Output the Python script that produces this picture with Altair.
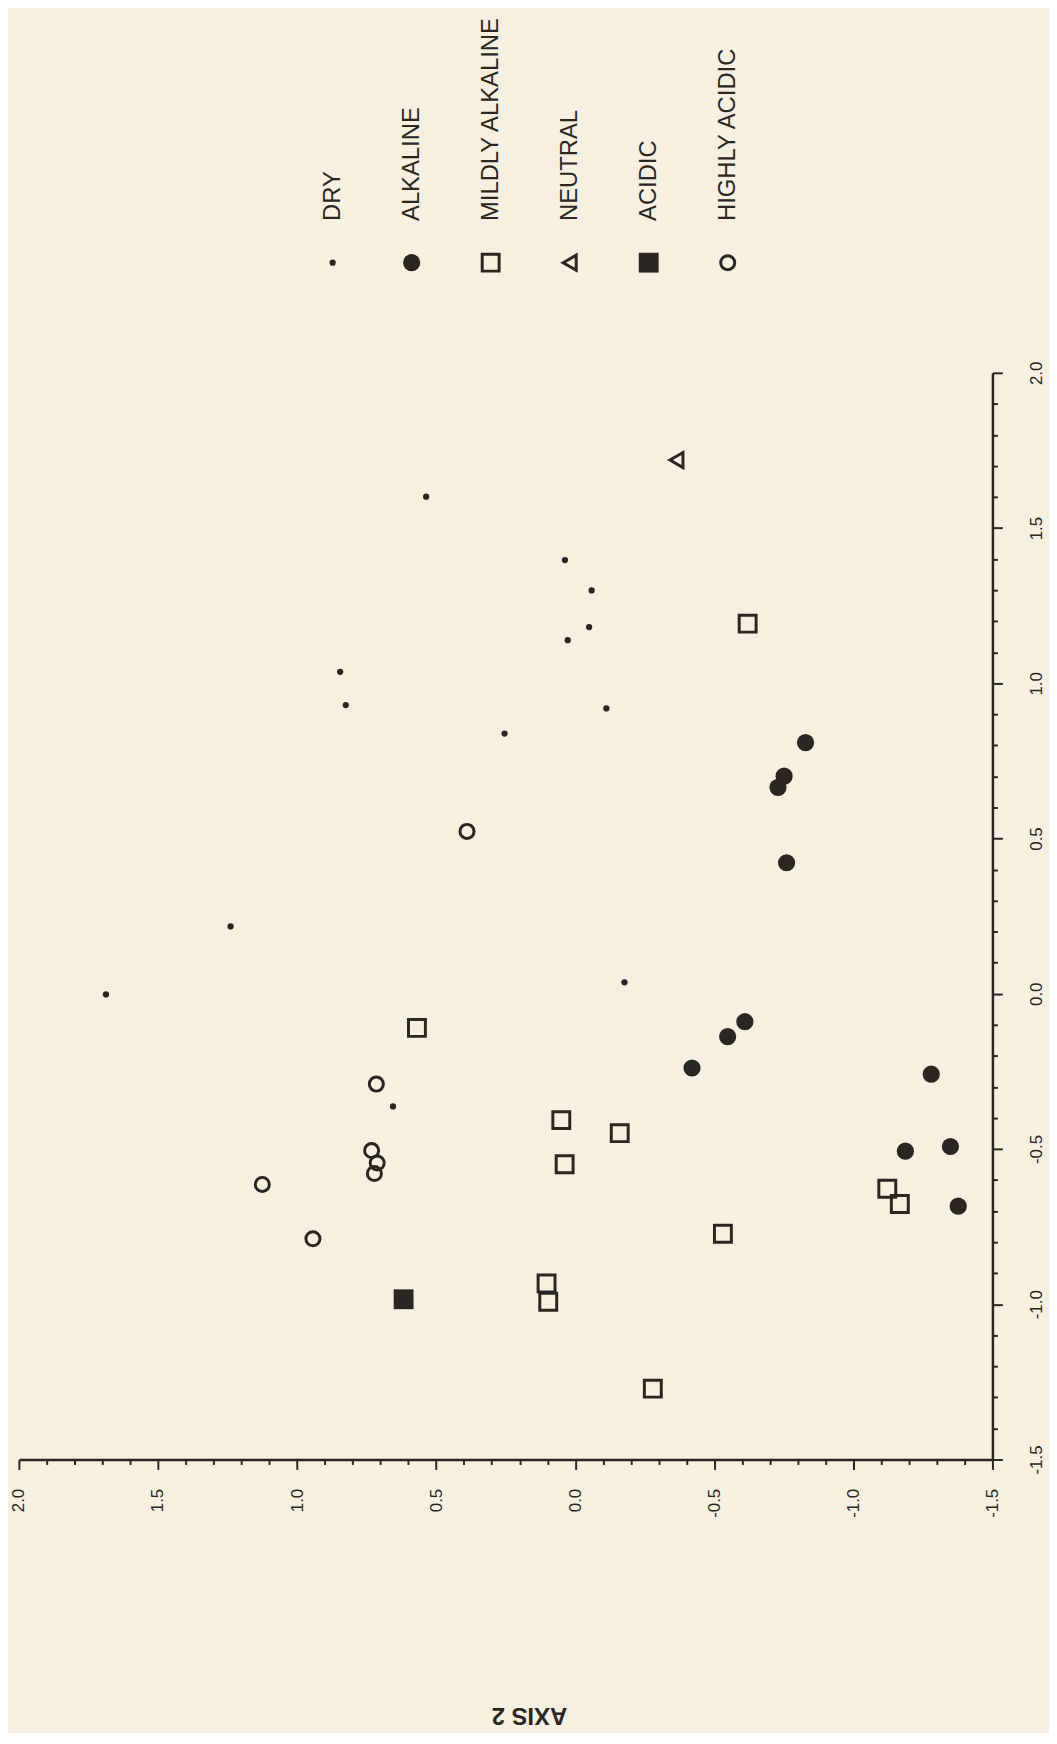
import altair as alt
import pandas as pd

# ---- data (horizontal = AXIS 2, vertical = AXIS 1) ----
categories = ["DRY", "ALKALINE", "MILDLY ALKALINE", "NEUTRAL", "ACIDIC", "HIGHLY ACIDIC"]
legend_order = [0, 1, 2, 3, 4, 5]

dry_axis2 = [0.536, 0.845, 0.825, 0.254, 0.037, -0.059, -0.050, 0.027, -0.112, 1.239, 1.687, 0.655, -0.177]
dry_axis1 = [1.601, 1.037, 0.930, 0.838, 1.397, 1.299, 1.181, 1.139, 0.919, 0.217, -0.002, -0.363, 0.037]

alk_axis2 = [-0.828, -0.751, -0.729, -0.760, -0.610, -0.548, -0.420, -1.280, -1.187, -1.349, -1.377]
alk_axis1 = [0.809, 0.701, 0.665, 0.422, -0.090, -0.138, -0.239, -0.259, -0.507, -0.492, -0.684]

mild_axis2 = [-0.620, 0.569, 0.050, -0.160, 0.038, -1.122, -1.167, -0.531, 0.103, 0.097, -0.279]
mild_axis1 = [1.192, -0.110, -0.407, -0.449, -0.549, -0.628, -0.677, -0.773, -0.933, -0.992, -1.272]

neut_axis2 = [-0.364]
neut_axis1 = [1.719]

acid_axis2 = [0.617]
acid_axis1 = [-0.984]

hacid_axis2 = [0.389, 0.715, 0.732, 0.712, 0.722, 1.125, 0.943]
hacid_axis1 = [0.523, -0.291, -0.505, -0.545, -0.579, -0.614, -0.789]

tick_values = [round(-1.5 + 0.1 * i, 1) for i in range(36)]

INK = "#2a2622"
BG = "#f7f0e1"

rows = []
for cat, xs, ys in [
    ("DRY", dry_axis2, dry_axis1),
    ("ALKALINE", alk_axis2, alk_axis1),
    ("MILDLY ALKALINE", mild_axis2, mild_axis1),
    ("NEUTRAL", neut_axis2, neut_axis1),
    ("ACIDIC", acid_axis2, acid_axis1),
    ("HIGHLY ACIDIC", hacid_axis2, hacid_axis1),
]:
    for a2, a1 in zip(xs, ys):
        rows.append({"group": cat, "axis2": a2, "axis1": a1})
df = pd.DataFrame(rows)

styles = {
    "DRY": dict(shape="circle", filled=True, size=40),
    "ALKALINE": dict(shape="circle", filled=True, size=300),
    "MILDLY ALKALINE": dict(shape="square", filled=False, size=290, strokeWidth=3),
    "NEUTRAL": dict(shape="triangle-left", filled=False, size=230, strokeWidth=3),
    "ACIDIC": dict(shape="square", filled=True, size=400),
    "HIGHLY ACIDIC": dict(shape="circle", filled=False, size=200, strokeWidth=3),
}

major = "abs(datum.value*2 - round(datum.value*2)) < 0.001"
label_expr = (f"{major} ? (datum.value < -0.001 ? '-' : '') + format(abs(datum.value), '.1f') : ''")
tick_size = {"condition": {"test": major, "value": 10}, "value": 5}

x_axis = alt.Axis(
    orient="bottom", values=tick_values, labelExpr=label_expr, tickSize=tick_size,
    labelAngle=270, labelAlign="right", labelBaseline="middle", labelPadding=19,
    labelFont="Liberation Sans", labelFontSize=17, labelColor=INK, labelOverlap=False,
    grid=False, domainColor=INK, domainWidth=2.5, tickColor=INK, tickWidth=2,
    title="AXIS 2", titleAngle=180, titleFont="Liberation Sans", titleFontSize=24,
    titleFontWeight="bold", titleColor=INK, titleX=514, titleY=257,
    titleAlign="center", titleBaseline="middle",
)
y_axis = alt.Axis(
    orient="right", values=tick_values, labelExpr=label_expr, tickSize=tick_size,
    labelAngle=270, labelAlign="center", labelBaseline="top", labelPadding=26,
    labelFont="Liberation Sans", labelFontSize=17, labelColor=INK, labelOverlap=False,
    grid=False, domainColor=INK, domainWidth=2.5, tickColor=INK, tickWidth=2,
    title=None,
)

base = alt.Chart(df).encode(
    x=alt.X("axis2:Q", scale=alt.Scale(domain=[2.0, -1.5], nice=False, zero=False), axis=x_axis),
    y=alt.Y("axis1:Q", scale=alt.Scale(domain=[-1.5, 2.0], nice=False, zero=False), axis=y_axis),
)
layers = [
    base.transform_filter(alt.datum.group == c).mark_point(color=INK, opacity=1, **styles[c])
    for c in categories
]
main = alt.layer(*layers).properties(width=981, height=1095)

# ---- legend (rotated labels, built from the category list) ----
leg_df = pd.DataFrame({"group": categories, "order": legend_order})
leg_base = alt.Chart(leg_df).encode(
    x=alt.X("order:Q", scale=alt.Scale(domain=[-3.97, 8.35], nice=False, zero=False), axis=None),
    y=alt.value(254),
)
leg_layers = [
    leg_base.transform_filter(alt.datum.group == c).mark_point(color=INK, opacity=1, **styles[c])
    for c in categories
]
leg_text = leg_base.mark_text(
    angle=270, align="left", baseline="middle", dx=42,
    font="Liberation Sans Narrow, Liberation Sans", fontSize=24, color=INK,
).encode(text="group:N")
legend = alt.layer(*leg_layers, leg_text).properties(width=981, height=260)

chart = alt.vconcat(legend, main, spacing=105, bounds="flush").properties(
    background=BG,
    padding={"left": 2, "top": -4, "right": 5, "bottom": 0},
).configure_view(stroke=None)

chart.save("out.html", embed_options={"renderer": "svg", "actions": False})
